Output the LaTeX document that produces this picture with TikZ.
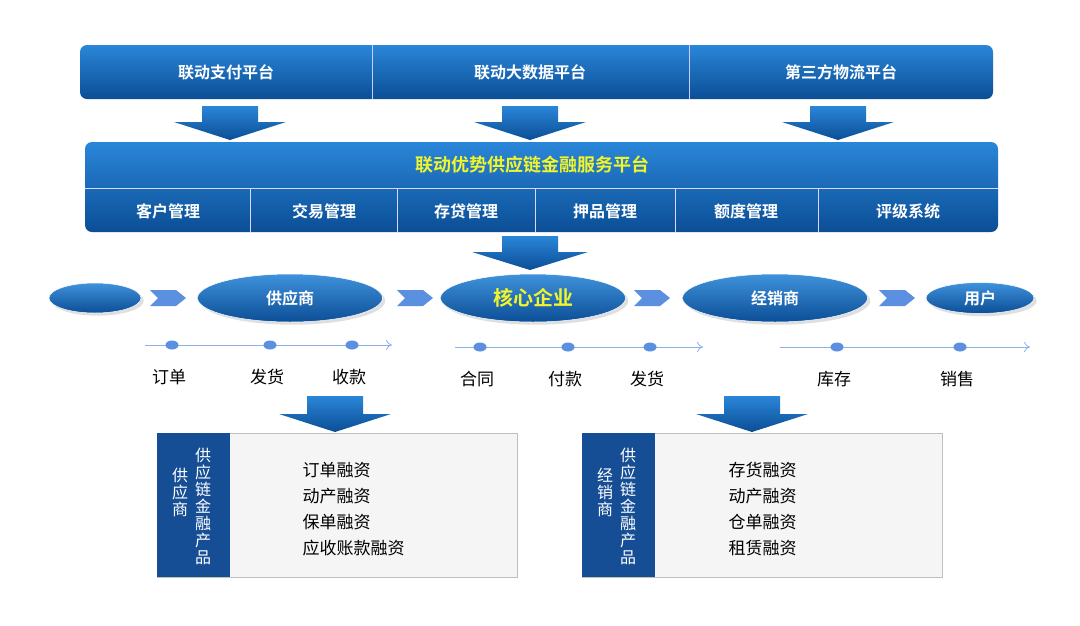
\documentclass[tikz,border=0pt]{standalone}
\usepackage{fontspec}
\setmainfont{Noto Sans CJK SC}
\newfontfamily\cjkb{Noto Sans CJK SC Bold}
\usetikzlibrary{shapes.geometric,arrows.meta,shadows}
\definecolor{btop}{HTML}{2A86D8}
\definecolor{bbot}{HTML}{0B4E96}
\definecolor{dkb}{HTML}{164E96}
\definecolor{lb}{HTML}{5B8FE0}
\definecolor{ttl}{HTML}{F2F52A}
\begin{document}
\begin{tikzpicture}[x=1pt,y=-1pt,
  bar/.style={rounded corners=7pt,top color=btop,bottom color=bbot,draw=none},
  wt/.style={text=white,font=\cjkb\fontsize{16}{16}\selectfont},
  bt/.style={text=black,font=\fontsize{17}{19}\selectfont},
  ell/.style={ellipse,top color=btop!90,bottom color=bbot,draw=white,line width=0.5pt,drop shadow={opacity=0.25}},
  chev/.style={fill=lb},
  dot/.style={circle,fill=lb,minimum width=13pt,minimum height=9pt,inner sep=0pt,ellipse},
  tl/.style={draw=lb!70,line width=0.8pt,-{To[length=6pt,width=10pt]}},
  vt/.style={text=white,font=\fontsize{16}{17}\selectfont,align=center},
  dar/.style={top color=btop,bottom color=bbot,draw=none}]
\useasboundingbox[fill=white!94!blue!3] (0,0) rectangle (1080,625);
% top bar
\path[bar] (80,45) rectangle (993,99);
\draw[white!80!blue,line width=1pt] (372,45)--(372,99) (689,45)--(689,99);
\node[wt] (p1) at (226,72) {联动支付平台};
\node[wt] (p2) at (530,72) {联动大数据平台};
\node[wt] (p3) at (841,72) {第三方物流平台};
% down arrows
\foreach \c/\n in {230/a1,530/a2,838/a3}{
  \path[dar] (\c-28,106)--(\c+28,106)--(\c+28,122)--(\c+56,122)--(\c,140)--(\c-56,122)--(\c-28,122)--cycle;
}
% main platform
\path[bar] (85,142) rectangle (998,232);
\draw[white!85!blue,line width=1pt] (85,188)--(998,188);
\foreach \x in {250,397,535,675,818}{\draw[white!85!blue,line width=1pt] (\x,188)--(\x,232);}
\node[text=ttl,font=\cjkb\fontsize{18}{18}\selectfont] (mt) at (532,165) {联动优势供应链金融服务平台};
\node[wt] (m1) at (168,211) {客户管理};
\node[wt] (m2) at (324,211) {交易管理};
\node[wt] (m3) at (466,211) {存贷管理};
\node[wt] (m4) at (605,211) {押品管理};
\node[wt] (m5) at (746,211) {额度管理};
\node[wt] (m6) at (908,211) {评级系统};
\path[dar] (502,236)--(558,236)--(558,252)--(588,252)--(530,270)--(472,252)--(502,252)--cycle;
% flow row
\node[ell,minimum width=92pt,minimum height=30pt] (e0) at (95,298) {};
\node[ell,minimum width=185pt,minimum height=48pt,wt] (e1) at (290,298) {供应商};
\node[ell,minimum width=185pt,minimum height=48pt,text=ttl,font=\cjkb\fontsize{20}{20}\selectfont] (e2) at (533,298) {核心企业};
\node[ell,minimum width=185pt,minimum height=48pt,wt] (e3) at (775,298) {经销商};
\node[ell,minimum width=108pt,minimum height=30pt,wt] (e4) at (980,298) {用户};
\foreach \c in {168,415,652,897}{
  \path[chev] (\c-18,290)--(\c+8,290)--(\c+18,298)--(\c+8,306)--(\c-18,306)--(\c-10,298)--cycle;
}
% timelines
\coordinate (t1a) at (145,345); \coordinate (t1b) at (392,345);
\coordinate (t2a) at (455,347); \coordinate (t2b) at (703,347);
\coordinate (t3a) at (780,347); \coordinate (t3b) at (1030,347);
\draw[tl] (t1a)--(t1b); \draw[tl] (t2a)--(t2b); \draw[tl] (t3a)--(t3b);
\foreach \x/\y/\t in {172/345/订单,270/345/发货,352/345/收款,480/347/合同,568/347/付款,650/347/发货,837/347/库存,960/347/销售}{
  \node[dot] at (\x,\y) {};
  \node[bt] at (\x-3,\y+32) {\t};
}
% lower arrows
\foreach \c in {335,752}{
  \path[dar] (\c-28,396)--(\c+28,396)--(\c+28,414)--(\c+56,414)--(\c,432)--(\c-56,414)--(\c-28,414)--cycle;
}
% boxes
\draw[gray!50,fill=white!92!gray] (157,433) rectangle (517,577);
\fill[dkb] (157,433) rectangle (230,577);
\node[vt] (v1) at (180,492) {供\\应\\商};
\node[vt] (v2) at (203,506) {供\\应\\链\\金\\融\\产\\品};
\node[bt,align=left,anchor=west,font=\fontsize{17}{26}\selectfont] (l1) at (299,509) {订单融资\\动产融资\\保单融资\\应收账款融资};
\draw[gray!50,fill=white!92!gray] (582,433) rectangle (942,577);
\fill[dkb] (582,433) rectangle (655,577);
\node[vt] (v3) at (605,492) {经\\销\\商};
\node[vt] (v4) at (628,506) {供\\应\\链\\金\\融\\产\\品};
\node[bt,align=left,anchor=west,font=\fontsize{17}{26}\selectfont] (l2) at (725,509) {存货融资\\动产融资\\仓单融资\\租赁融资};
\end{tikzpicture}
\end{document}
